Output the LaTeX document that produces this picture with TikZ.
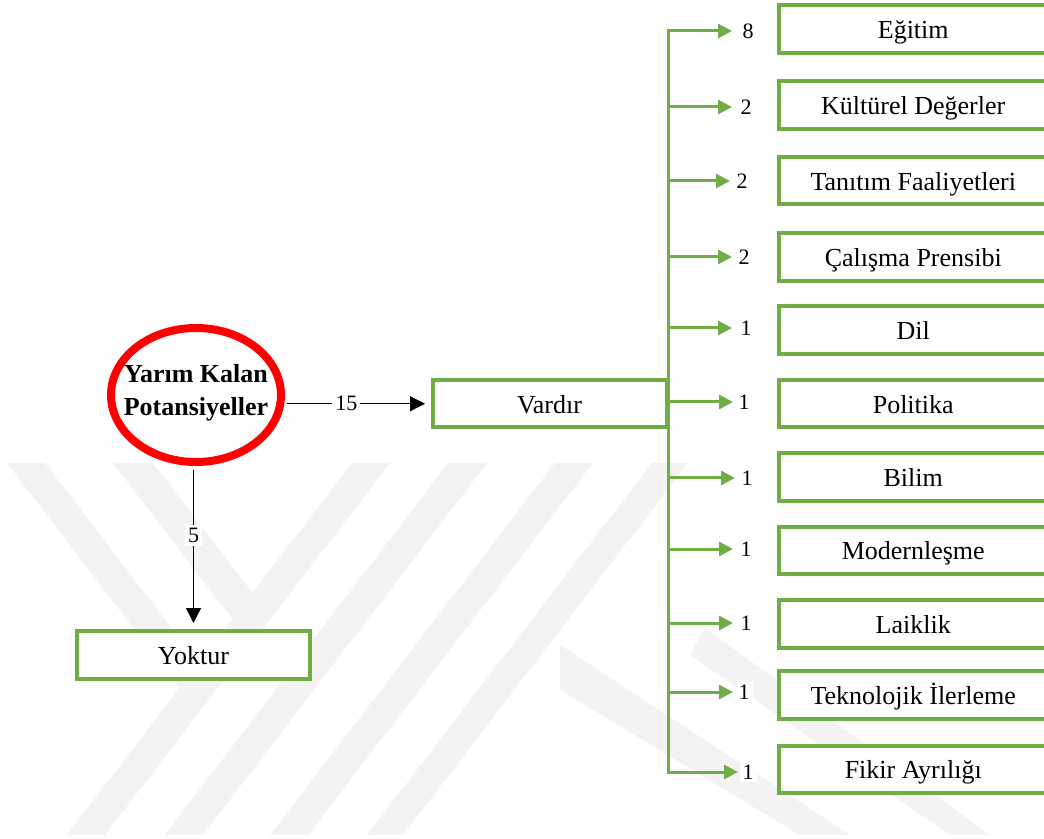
\documentclass[tikz,border=0pt]{standalone}
\usepackage{fontspec}
\setmainfont{Liberation Serif}
\usetikzlibrary{arrows.meta,shapes.geometric}
\definecolor{ogreen}{RGB}{112,173,71}
\definecolor{wm}{RGB}{243,243,243}
\begin{document}
\begin{tikzpicture}[x=0.5pt,y=-0.5pt,
  box/.style={draw=ogreen,line width=2pt,fill=white,minimum width=134.75pt,
    minimum height=23.75pt,inner sep=0pt,text height=11.6pt,text depth=2pt,
    font=\fontsize{13}{15}\selectfont},
  ell/.style={ellipse,draw=red,line width=4pt,fill=white,minimum width=85pt,
    minimum height=67pt,inner sep=0pt},
  ctext/.style={align=center,inner sep=0pt,
    font=\bfseries\fontsize{13}{16.5}\selectfont},
  lbl/.style={fill=white,inner sep=1.5pt,font=\fontsize{11}{13}\selectfont},
  barrow/.style={draw=black,line width=0.6pt,-{Triangle[length=7.5pt,width=7.5pt]}},
  garrow/.style={draw=ogreen,line width=1.5pt,-{Triangle[length=7pt,width=7pt]}},
  wmark/.style={fill=wm,draw=none}]
\clip (0,0) rectangle (1044,839);
\fill[white] (0,0) rectangle (1044,839);
% watermark
\fill[wmark] (352,463) -- (390,463) -- (105,835) -- (67,835) -- cycle;
\fill[wmark] (448,463) -- (487,463) -- (203,835) -- (165,835) -- cycle;
\fill[wmark] (555,463) -- (593,463) -- (308,835) -- (270,835) -- cycle;
\fill[wmark] (652,463) -- (688,463) -- (403,835) -- (367,835) -- cycle;
\fill[wmark] (113,463) -- (153,463) -- (252.6,593) -- (232.5,619) -- cycle;
\fill[wmark] (7,463) -- (45,463) -- (198.5,663.4) -- (179.5,688) -- cycle;
\fill[wmark] (560,645) -- (560,690) -- (800,835) -- (850,835) -- cycle;
\fill[wmark] (705,628) -- (690,655) -- (950,835) -- (990,835) -- cycle;
% main nodes
\node[ell] (c) at (196,395) {};
\node[ctext] (ct) at (196,393) {Yarım Kalan\\Potansiyeller};
\node[box,minimum width=117pt] (v) at (549.5,403.75) {Vardır};
\node[box,minimum width=116.75pt,minimum height=24pt] (yk) at (193.5,655) {Yoktur};
\coordinate (cs) at (c.east |- v.west);
\draw[barrow] ([xshift=1pt]cs) -- node[lbl,pos=0.43]{15} ([xshift=-2.75pt]v.west);
\coordinate (vs) at (c.south -| yk.north);
\draw[barrow] ([yshift=-2pt]vs) -- node[lbl,pos=0.43]{5} ([yshift=3pt]yk.north);
% right column
\foreach \i/\by/\txt/\ay/\lx/\tx/\num in {
  1/29.25/Eğitim/31/748/732/8,
  2/105.25/Kültürel Değerler/107/746/732/2,
  3/180.75/Tanıtım Faaliyetleri/181/742/730/2,
  4/257.25/Çalışma Prensibi/257/744/732/2,
  5/330.25/Dil/328/746/732/1,
  6/403.75/Politika/402/744/733/1,
  7/477/Bilim/478/747/735/1,
  8/550.25/Modernleşme/549/746/733/1,
  9/624/Laiklik/623/746/733/1,
  10/695/Teknolojik İlerleme/692/744/733/1,
  11/769.25/Fikir Ayrılığı/772/748/738/1}{
  \node[box] (b\i) at (913.25,\by) {\txt};
  \node[lbl] (n\i) at (\lx,\ay) {\num};
  \coordinate (t\i) at (\tx,\ay);
}
\draw[garrow] (v.east) |- (t1);
\draw[garrow] (v.east) |- (t11);
\foreach \i in {2,...,10}{
  \draw[garrow] (t\i -| v.east) -- (t\i);
}
\end{tikzpicture}
\end{document}
